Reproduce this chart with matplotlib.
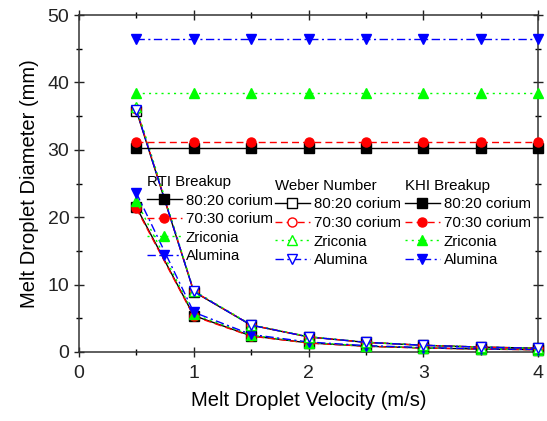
import matplotlib
matplotlib.use("Agg")
import matplotlib.pyplot as plt
from matplotlib.legend import Legend
from matplotlib.ticker import MultipleLocator

plt.rcParams['font.family'] = ['Liberation Sans', 'DejaVu Sans']

# melt droplet velocity (m/s)
velocity = [0.5, 1.0, 1.5, 2.0, 2.5, 3.0, 3.5, 4.0]

# RTI breakup diameters (mm)
rti_8020 = [21.5, 5.4, 2.4, 1.35, 0.86, 0.60, 0.44, 0.34]
rti_7030 = [21.3, 5.3, 2.35, 1.33, 0.85, 0.59, 0.43, 0.33]
rti_zr = [22.4, 5.6, 2.5, 1.40, 0.90, 0.62, 0.46, 0.35]
rti_al = [23.6, 5.9, 2.6, 1.48, 0.95, 0.66, 0.48, 0.37]

# Weber number diameters (mm)
we_8020 = [35.8, 8.95, 3.98, 2.24, 1.43, 0.99, 0.73, 0.56]
we_7030 = [36.0, 9.0, 4.0, 2.25, 1.44, 1.0, 0.73, 0.56]
we_zr = [36.4, 9.1, 4.05, 2.28, 1.46, 1.01, 0.74, 0.57]
we_al = [35.9, 8.98, 3.99, 2.24, 1.44, 1.0, 0.73, 0.56]

# KHI breakup diameters (mm)
khi_8020 = [30.2] * 8
khi_7030 = [31.1] * 8
khi_zr = [38.5] * 8
khi_al = [46.5] * 8

labels = ['80:20 corium', '70:30 corium', 'Zriconia', 'Alumina']
colors = ['black', 'red', '#00ff00', 'blue']
styles = ['-', (0, (5, 3)), (0, (1.5, 3)), (0, (6, 2.5, 1.5, 2.5))]
marks = ['s', 'o', '^', 'v']

fig = plt.figure(figsize=(5.47, 4.21), dpi=100)
ax = fig.add_axes([79 / 547, 1 - 352 / 421, 459 / 547, 337 / 421])

groups = [
    ('RTI Breakup', [rti_8020, rti_7030, rti_zr, rti_al], True),
    ('Weber Number', [we_8020, we_7030, we_zr, we_al], False),
    ('KHI Breakup', [khi_8020, khi_7030, khi_zr, khi_al], True),
]

handles = []
for title, series, filled in groups:
    hs = []
    for vals, lab, c, ls, m in zip(series, labels, colors, styles, marks):
        h, = ax.plot(velocity, vals, color=c, ls=ls, lw=1.0, marker=m,
                     markersize=6.5, markeredgecolor=c, markeredgewidth=1.0,
                     markerfacecolor=c if filled else 'white',
                     label=lab, clip_on=False, zorder=3)
        hs.append(h)
    handles.append((title, hs))

# three legend columns, positions in figure pixels
anchors = [(147, 175), (275, 179), (405, 179)]
for (title, hs), (px, py) in zip(handles, anchors):
    leg = Legend(ax, hs, labels, title=title, loc='upper left',
                 bbox_to_anchor=(px / 547, 1 - py / 421),
                 bbox_transform=fig.transFigure, frameon=False,
                 fontsize=10.8, title_fontsize=10.8, alignment='left',
                 borderpad=0, borderaxespad=0, handlelength=2.3,
                 handletextpad=0.3, labelspacing=0.3)
    ax.add_artist(leg)

ax.set_xlim(0, 4)
ax.set_ylim(0, 50)
ax.xaxis.set_major_locator(MultipleLocator(1))
ax.xaxis.set_minor_locator(MultipleLocator(0.5))
ax.yaxis.set_major_locator(MultipleLocator(10))
ax.yaxis.set_minor_locator(MultipleLocator(5))
ax.tick_params(which='major', direction='inout', length=7, width=1,
               top=True, right=True, labelsize=14, colors='#222222')
ax.tick_params(axis='x', which='major', pad=6)
ax.tick_params(which='minor', direction='inout', length=4, width=1,
               top=True, right=True)
for s in ax.spines.values():
    s.set_linewidth(1.1)
    s.set_color('#333333')

ax.set_xlabel('Melt Droplet Velocity (m/s)', fontsize=14.5, labelpad=6)
ax.set_ylabel('Melt Droplet Diameter (mm)', fontsize=14.5, labelpad=6)

fig.savefig('out.png', dpi=100)
